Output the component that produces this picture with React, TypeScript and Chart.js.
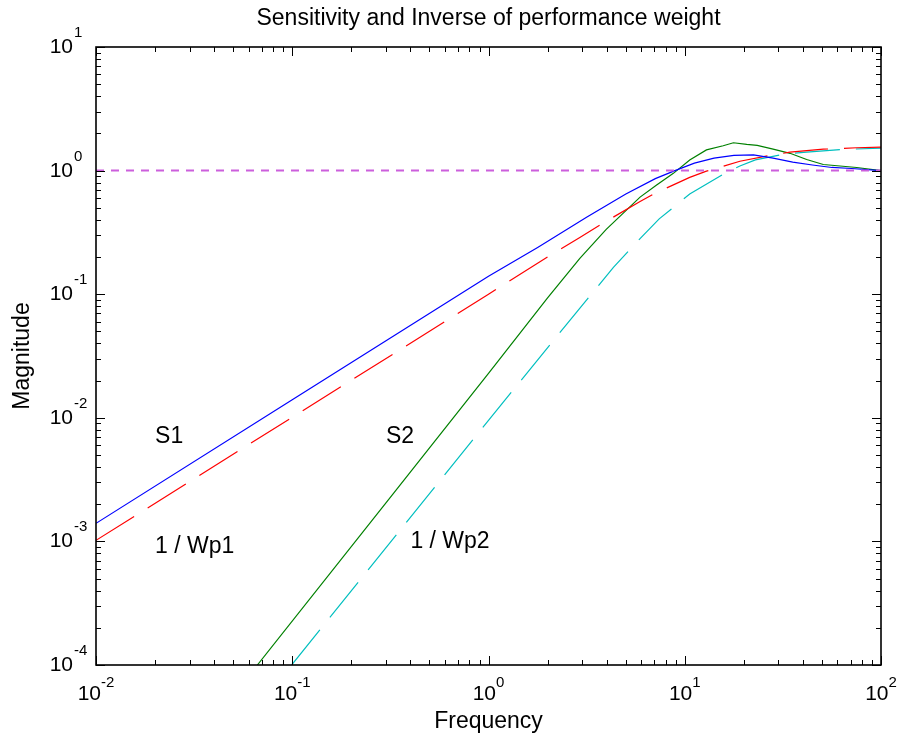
import React, { useEffect, useRef } from "react";
import { Chart, registerables } from "chart.js";

Chart.register(...registerables);

// ---- data (frequency, magnitude) ----
const FREQ_S1 = [0.01, 0.1, 1, 1.78, 3.16, 5.01, 7.08, 8.91, 11.2, 14.1, 17.8, 22.4, 28.2, 35.5, 44.7, 56.2, 70.8, 100];
const MAG_S1 = [0.0014, 0.014, 0.1396, 0.239, 0.419, 0.646, 0.861, 1.0, 1.15, 1.26, 1.33, 1.34, 1.26, 1.17, 1.11, 1.06, 1.04, 1.0];

const FREQ_WP1 = [0.01, 1, 2, 2.92, 3.98, 5.92, 6.92, 8.75, 10.6, 12.9, 19.1, 27.2, 34.4, 50.8, 75.2, 100];
const MAG_WP1 = [0.00102, 0.1, 0.2, 0.288, 0.389, 0.562, 0.646, 0.767, 0.881, 0.989, 1.19, 1.33, 1.41, 1.49, 1.53, 1.55];

const FREQ_S2 = [0.0664, 0.316, 1, 2, 2.92, 3.98, 5.92, 7.19, 8.75, 10.6, 12.9, 15.7, 17.7, 20.7, 23.4, 28.2, 34.4, 41.8, 50.8, 61.8, 75.2, 100];
const MAG_S2 = [0.0001, 0.00227, 0.0229, 0.0933, 0.195, 0.335, 0.61, 0.764, 0.95, 1.22, 1.47, 1.59, 1.68, 1.63, 1.6, 1.49, 1.38, 1.23, 1.12, 1.09, 1.06, 1.0];

const FREQ_WP2 = [0.0993, 1, 2.5, 4.33, 5.92, 7.41, 8.71, 10.6, 15.7, 19.1, 22.9, 33.0, 41.8, 61.8, 100];
const MAG_WP2 = [0.0001, 0.00955, 0.057, 0.165, 0.282, 0.407, 0.501, 0.647, 0.933, 1.09, 1.22, 1.37, 1.41, 1.48, 1.52];

const FREQ_UNITY = [0.01, 100];
const MAG_UNITY = [1, 1];

const X_TICK_EXPONENTS = [-2, -1, 0, 1, 2];
const Y_TICK_EXPONENTS = [-4, -3, -2, -1, 0, 1];

const ANNOTATION_TEXTS = ["S1", "1 / Wp1", "S2", "1 / Wp2"];
const ANNOTATION_X = [0.02, 0.02, 0.3, 0.4];
const ANNOTATION_Y = [0.007, 0.0009, 0.007, 0.001];

const TITLE = "Sensitivity and Inverse of performance weight";
const X_LABEL = "Frequency";
const Y_LABEL = "Magnitude";

const FONT = '"Liberation Sans", Arial, sans-serif';

function pts(xs: number[], ys: number[]) {
  return xs.map((x, i) => ({ x, y: ys[i] }));
}

const matlabAxes = {
  id: "matlabAxes",
  afterDatasetsDraw(chart: any) {
    const { ctx, chartArea: a, scales } = chart;
    const xs = scales.x;
    const ys = scales.y;
    ctx.save();
    ctx.strokeStyle = "#000";
    ctx.lineWidth = 1.6;
    ctx.strokeRect(a.left, a.top, a.right - a.left, a.bottom - a.top);

    ctx.lineWidth = 1;
    ctx.beginPath();
    // x ticks
    for (let e = X_TICK_EXPONENTS[0]; e <= X_TICK_EXPONENTS[X_TICK_EXPONENTS.length - 1]; e++) {
      for (let m = 1; m <= 9; m++) {
        const v = m * Math.pow(10, e);
        if (v > xs.max * 1.0001) break;
        const px = Math.round(xs.getPixelForValue(v)) + 0.5;
        const len = m === 1 ? 9 : 5;
        ctx.moveTo(px, a.bottom);
        ctx.lineTo(px, a.bottom - len);
        ctx.moveTo(px, a.top);
        ctx.lineTo(px, a.top + len);
      }
    }
    // y ticks
    for (let e = Y_TICK_EXPONENTS[0]; e <= Y_TICK_EXPONENTS[Y_TICK_EXPONENTS.length - 1]; e++) {
      for (let m = 1; m <= 9; m++) {
        const v = m * Math.pow(10, e);
        if (v > ys.max * 1.0001) break;
        const py = Math.round(ys.getPixelForValue(v)) + 0.5;
        const len = m === 1 ? 9 : 5;
        ctx.moveTo(a.left, py);
        ctx.lineTo(a.left + len, py);
        ctx.moveTo(a.right, py);
        ctx.lineTo(a.right - len, py);
      }
    }
    ctx.stroke();

    // tick labels
    ctx.fillStyle = "#000";
    const baseFont = `21px ${FONT}`;
    const expFont = `15px ${FONT}`;
    ctx.textBaseline = "alphabetic";
    X_TICK_EXPONENTS.forEach((e) => {
      const px = xs.getPixelForValue(Math.pow(10, e));
      ctx.font = baseFont;
      const wb = ctx.measureText("10").width;
      ctx.font = expFont;
      const es = String(e);
      const we = ctx.measureText(es).width;
      const left = px - (wb + we) / 2;
      ctx.font = baseFont;
      ctx.textAlign = "left";
      ctx.fillText("10", left, a.bottom + 35);
      ctx.font = expFont;
      ctx.fillText(es, left + wb, a.bottom + 22);
    });
    Y_TICK_EXPONENTS.forEach((e) => {
      const py = ys.getPixelForValue(Math.pow(10, e));
      ctx.font = baseFont;
      ctx.textAlign = "right";
      ctx.fillText("10", a.left - 23, py + 6);
      ctx.font = expFont;
      ctx.textAlign = "left";
      ctx.fillText(String(e), a.left - 22, py - 10);
    });

    // annotations
    ctx.font = `23px ${FONT}`;
    ctx.textAlign = "left";
    ctx.textBaseline = "middle";
    ANNOTATION_TEXTS.forEach((t, i) => {
      const px = xs.getPixelForValue(ANNOTATION_X[i]);
      const py = ys.getPixelForValue(ANNOTATION_Y[i]);
      ctx.fillText(t, px, py);
    });

    // title and axis labels
    const cx = (a.left + a.right) / 2;
    const cy = (a.top + a.bottom) / 2;
    ctx.textAlign = "center";
    ctx.fillText(TITLE, cx, 19);
    ctx.fillText(X_LABEL, cx, 722);
    ctx.save();
    ctx.translate(23, cy);
    ctx.rotate(-Math.PI / 2);
    ctx.fillText(Y_LABEL, 0, 0);
    ctx.restore();

    ctx.restore();
  },
};

export default function App() {
  const ref = useRef<HTMLCanvasElement | null>(null);
  useEffect(() => {
    if (!ref.current) return;
    const common = { pointRadius: 0, borderWidth: 1.2, tension: 0, fill: false };
    const chart = new Chart(ref.current, {
      type: "line",
      data: {
        datasets: [
          { ...common, label: "unity", data: pts(FREQ_UNITY, MAG_UNITY), borderColor: "#cc5fdc", borderWidth: 2, borderDash: [8, 7], order: 0 },
          { ...common, label: "S1", data: pts(FREQ_S1, MAG_S1), borderColor: "#0000ff", order: 1 },
          { ...common, label: "1/Wp1", data: pts(FREQ_WP1, MAG_WP1), borderColor: "#ff0000", borderDash: [45, 16], order: 2 },
          { ...common, label: "S2", data: pts(FREQ_S2, MAG_S2), borderColor: "#008000", order: 3 },
          { ...common, label: "1/Wp2", data: pts(FREQ_WP2, MAG_WP2), borderColor: "#00bfbf", borderDash: [45, 16], order: 4 },
        ],
      },
      options: {
        responsive: false,
        animation: false,
        devicePixelRatio: 1,
        layout: { padding: { left: 96, right: 16, top: 47, bottom: 74 } },
        scales: {
          x: { type: "logarithmic", min: 0.01, max: 100, display: false },
          y: { type: "logarithmic", min: 0.0001, max: 10, display: false },
        },
        plugins: { legend: { display: false }, tooltip: { enabled: false }, title: { display: false } },
        events: [],
      } as any,
      plugins: [matlabAxes],
    });
    return () => chart.destroy();
  }, []);
  return (
    <div style={{ position: "absolute", left: 0, top: 0, width: 897, height: 739, background: "#fff" }}>
      <canvas ref={ref} width={897} height={739} style={{ width: 897, height: 739, display: "block" }} />
    </div>
  );
}
